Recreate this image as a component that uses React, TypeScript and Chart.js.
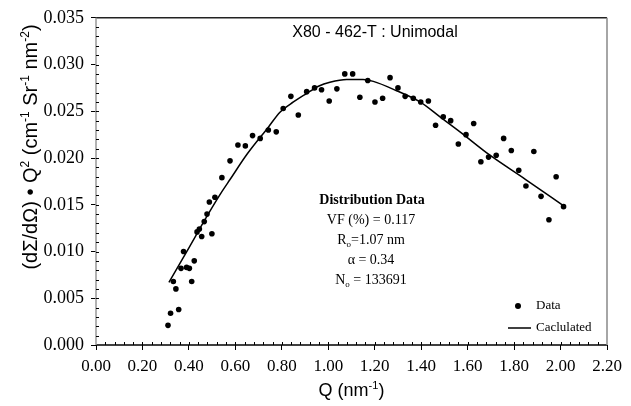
import { useEffect, useRef } from "react";
import { Chart, registerables } from "chart.js";

Chart.register(...registerables);

const dataQ = [0.310, 0.321, 0.333, 0.344, 0.356, 0.366, 0.377, 0.390, 0.402, 0.412, 0.423, 0.435, 0.445, 0.455, 0.466, 0.478, 0.488, 0.499, 0.512, 0.542, 0.577, 0.611, 0.643, 0.674, 0.707, 0.742, 0.776, 0.806, 0.839, 0.871, 0.907, 0.941, 0.971, 1.004, 1.037, 1.071, 1.105, 1.136, 1.170, 1.201, 1.234, 1.266, 1.300, 1.331, 1.366, 1.398, 1.431, 1.462, 1.495, 1.527, 1.560, 1.593, 1.626, 1.657, 1.690, 1.723, 1.755, 1.788, 1.820, 1.851, 1.885, 1.916, 1.950, 1.981, 2.013];
const dataI = [0.0021, 0.0034, 0.0068, 0.0060, 0.0038, 0.0082, 0.0100, 0.0083, 0.0082, 0.0068, 0.0090, 0.0121, 0.0124, 0.0116, 0.0132, 0.0140, 0.0153, 0.0119, 0.0158, 0.0179, 0.0197, 0.0214, 0.0213, 0.0224, 0.0221, 0.0230, 0.0228, 0.0253, 0.0266, 0.0246, 0.0271, 0.0275, 0.0273, 0.0261, 0.0274, 0.0290, 0.0290, 0.0265, 0.0283, 0.0260, 0.0264, 0.0286, 0.0275, 0.0266, 0.0264, 0.0260, 0.0261, 0.0235, 0.0244, 0.0240, 0.0215, 0.0225, 0.0237, 0.0196, 0.0201, 0.0203, 0.0221, 0.0208, 0.0187, 0.0170, 0.0207, 0.0159, 0.0134, 0.0180, 0.0148];

const calcQ = [0.314, 0.40, 0.476, 0.542, 0.577, 0.65, 0.742, 0.792, 0.85, 0.907, 0.96, 1.007, 1.079, 1.15, 1.194, 1.294, 1.395, 1.481, 1.567, 1.696, 1.85, 2.012];
const calcI = [0.0067, 0.0104, 0.0137, 0.0164, 0.0177, 0.0204, 0.0233, 0.0249, 0.0260, 0.0269, 0.0277, 0.0281, 0.0284, 0.0284, 0.0282, 0.0272, 0.0260, 0.0244, 0.0228, 0.0203, 0.0177, 0.0149];

const xTicks = [0, 0.2, 0.4, 0.6, 0.8, 1.0, 1.2, 1.4, 1.6, 1.8, 2.0, 2.2];
const yTicks = [0, 0.005, 0.01, 0.015, 0.02, 0.025, 0.03, 0.035];
const xMinorStep = 0.04;
const yMinorStep = 0.001;

const chartTitle = "X80 - 462-T : Unimodal";
const infoHeading = "Distribution Data";
const vfText = "VF (%) = 0.117";
const roText = "=1.07 nm";
const alphaText = "\u03b1 = 0.34";
const noText = " = 133691";
const legendData = "Data";
const legendCalc = "Caclulated";

type Seg = { t: string; sup?: boolean; sub?: boolean };

function drawRich(ctx: CanvasRenderingContext2D, segs: Seg[], x: number, y: number, size: number, family: string, weight: string, align: "left" | "center") {
  const big = `${weight} ${size}px ${family}`;
  const small = `${weight} ${Math.round(size * 0.62)}px ${family}`;
  let total = 0;
  for (const s of segs) {
    ctx.font = s.sup || s.sub ? small : big;
    total += ctx.measureText(s.t).width;
  }
  let cx = align === "center" ? x - total / 2 : x;
  ctx.textAlign = "left";
  ctx.textBaseline = "alphabetic";
  for (const s of segs) {
    ctx.font = s.sup || s.sub ? small : big;
    let dy = 0;
    if (s.sup) dy = -size * 0.38;
    if (s.sub) dy = size * 0.2;
    ctx.fillText(s.t, cx, y + dy);
    cx += ctx.measureText(s.t).width;
  }
}

const overlay = {
  id: "overlay",
  afterDraw(chart: any) {
    const ctx: CanvasRenderingContext2D = chart.ctx;
    const { left, right, top, bottom } = chart.chartArea;
    const xs = chart.scales.x;
    const ys = chart.scales.y;
    ctx.save();
    // box
    ctx.lineWidth = 1.5;
    ctx.strokeStyle = "#222";
    ctx.beginPath(); ctx.moveTo(left, top); ctx.lineTo(right, top); ctx.stroke();
    ctx.strokeStyle = "#000";
    ctx.beginPath(); ctx.moveTo(left, bottom); ctx.lineTo(right, bottom); ctx.stroke();
    ctx.strokeStyle = "#999";
    ctx.beginPath(); ctx.moveTo(left, top); ctx.lineTo(left, bottom); ctx.stroke();
    ctx.strokeStyle = "#888";
    ctx.beginPath(); ctx.moveTo(right, top); ctx.lineTo(right, bottom); ctx.stroke();
    // minor ticks
    ctx.strokeStyle = "#000";
    ctx.lineWidth = 1;
    const nx = Math.round(2.2 / xMinorStep);
    for (let i = 1; i < nx; i++) {
      const v = i * xMinorStep;
      const px = Math.round(xs.getPixelForValue(v)) + 0.5;
      ctx.beginPath(); ctx.moveTo(px, bottom); ctx.lineTo(px, bottom - 3); ctx.stroke();
    }
    const ny = Math.round(0.035 / yMinorStep);
    for (let i = 1; i < ny; i++) {
      const v = i * yMinorStep;
      const py = Math.round(ys.getPixelForValue(v)) + 0.5;
      ctx.beginPath(); ctx.moveTo(left, py); ctx.lineTo(left + 3, py); ctx.stroke();
    }
    ctx.fillStyle = "#000";
    // title
    ctx.font = "16px 'Liberation Sans', Arial, sans-serif";
    ctx.textAlign = "center";
    ctx.textBaseline = "middle";
    ctx.fillText(chartTitle, 375, 33);
    // x title
    drawRich(ctx, [{ t: "Q (nm" }, { t: "-1", sup: true }, { t: ")" }], (left + right) / 2, 396, 18, "'Liberation Sans', Arial, sans-serif", "normal", "center");
    // y title
    ctx.save();
    ctx.translate(37, 147);
    ctx.rotate(-Math.PI / 2);
    drawRich(ctx, [
      { t: "(d\u03a3/d\u03a9) \u2022 Q" }, { t: "2", sup: true },
      { t: " (cm" }, { t: "-1", sup: true }, { t: " Sr" }, { t: "-1", sup: true },
      { t: " nm" }, { t: "-2", sup: true }, { t: ")" },
    ], 0, 0, 20, "'Liberation Sans', Arial, sans-serif", "normal", "center");
    ctx.restore();
    // info block
    const serif = "'Liberation Serif', 'Times New Roman', serif";
    drawRich(ctx, [{ t: infoHeading }], 372, 204, 14, serif, "bold", "center");
    drawRich(ctx, [{ t: vfText }], 371, 224, 14, serif, "normal", "center");
    drawRich(ctx, [{ t: "R" }, { t: "o", sub: true }, { t: roText }], 371, 244, 14, serif, "normal", "center");
    drawRich(ctx, [{ t: alphaText }], 371, 264, 14, serif, "normal", "center");
    drawRich(ctx, [{ t: "N" }, { t: "o", sub: true }, { t: noText }], 371, 284, 14, serif, "normal", "center");
    // legend
    ctx.beginPath(); ctx.arc(518, 306, 3, 0, Math.PI * 2); ctx.fill();
    ctx.font = `13px ${serif}`;
    ctx.textAlign = "left";
    ctx.textBaseline = "middle";
    ctx.fillText(legendData, 536, 306);
    ctx.lineWidth = 1.5;
    ctx.beginPath(); ctx.moveTo(508, 328); ctx.lineTo(531, 328); ctx.stroke();
    ctx.fillText(legendCalc, 536, 328);
    ctx.restore();
  },
};

export default function App() {
  const ref = useRef<HTMLCanvasElement>(null);
  useEffect(() => {
    if (!ref.current) return;
    const chart = new Chart(ref.current, {
      type: "scatter",
      data: {
        datasets: [
          {
            label: legendData,
            data: dataQ.map((q, i) => ({ x: q, y: dataI[i] })),
            showLine: false,
            pointRadius: 2.8,
            pointBackgroundColor: "#000",
            pointBorderColor: "#000",
            pointBorderWidth: 0,
          },
          {
            label: legendCalc,
            data: calcQ.map((q, i) => ({ x: q, y: calcI[i] })),
            showLine: true,
            borderColor: "#000",
            borderWidth: 1.5,
            pointRadius: 0,
            cubicInterpolationMode: "monotone",
          },
        ],
      },
      options: {
        responsive: false,
        animation: false,
        layout: { padding: { top: 12, right: 24, bottom: 0, left: 0 } },
        plugins: { legend: { display: false }, tooltip: { enabled: false }, title: { display: false } },
        scales: {
          x: {
            type: "linear",
            min: 0,
            max: 2.2,
            afterBuildTicks: (s: any) => { s.ticks = xTicks.map((v) => ({ value: v })); },
            afterFit: (s: any) => { s.height = 61; },
            border: { display: false },
            grid: { drawOnChartArea: false, drawTicks: true, tickLength: 5, color: "#000", lineWidth: 1 },
            ticks: {
              padding: 6,
              color: "#000",
              maxRotation: 0,
              autoSkip: false,
              font: { family: "'Liberation Serif', 'Times New Roman', serif", size: 17 },
              callback: (v: any) => Number(v).toFixed(2),
            },
          },
          y: {
            type: "linear",
            min: 0,
            max: 0.035,
            afterBuildTicks: (s: any) => { s.ticks = yTicks.map((v) => ({ value: v })); },
            afterFit: (s: any) => { s.width = 96; },
            border: { display: false },
            grid: { drawOnChartArea: false, drawTicks: true, tickLength: 5, color: "#000", lineWidth: 1 },
            ticks: {
              padding: 7,
              color: "#000",
              autoSkip: false,
              font: { family: "'Liberation Serif', 'Times New Roman', serif", size: 18 },
              callback: (v: any) => Number(v).toFixed(3),
            },
          },
        },
      },
      plugins: [overlay],
    } as any);
    return () => chart.destroy();
  }, []);
  return (
    <div style={{ position: "fixed", left: 0, top: 0, width: 631, height: 406, background: "#fff" }}>
      <canvas ref={ref} width={631} height={406} style={{ width: 631, height: 406, display: "block" }} />
    </div>
  );
}
